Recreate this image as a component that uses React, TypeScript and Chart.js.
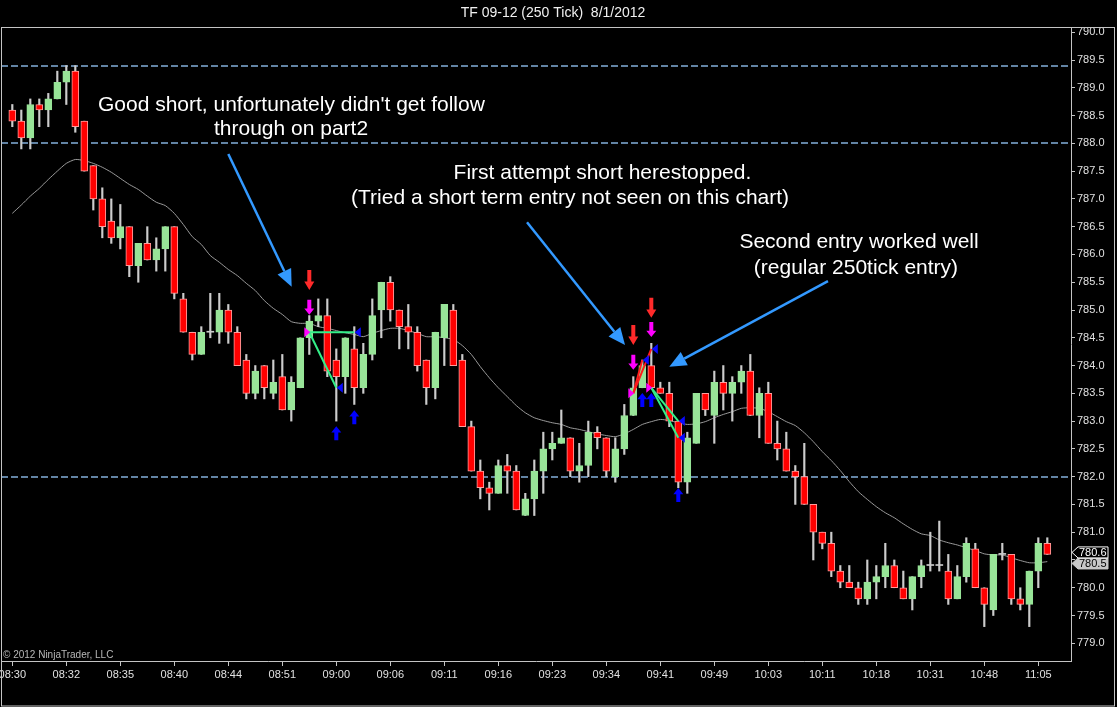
import React, { useEffect, useRef } from 'react';
import { Chart, registerables } from 'chart.js';

Chart.register(...registerables);

// ---------- data ----------
const timeLabels = ['08:30', '08:32', '08:35', '08:40', '08:44', '08:51', '09:00', '09:06', '09:11', '09:16',
  '09:23', '09:34', '09:41', '09:49', '10:03', '10:11', '10:18', '10:31', '10:48', '11:05'];
const barsPerLabel = 6;

const opens = [
  788.6, 788.4, 788.1, 788.7, 788.6, 788.8, 789.1, 789.3, 788.4, 787.6,
  787.0, 786.6, 786.3, 786.5, 785.8, 786.2, 785.9, 786.1, 786.5, 785.2,
  784.6, 784.2, 784.6, 784.6, 785.0, 784.6, 784.1, 783.5, 784.0, 783.5,
  783.8, 783.2, 783.6, 784.5, 784.8, 784.9, 784.1, 783.8, 784.3, 783.6,
  784.2, 785.0, 785.5, 785.0, 784.7, 784.6, 784.1, 783.6, 784.5, 785.0,
  784.1, 782.9, 782.1, 781.8, 781.7, 782.2, 782.1, 781.3, 781.6, 782.1,
  782.5, 782.6, 782.7, 782.1, 782.2, 782.8, 782.7, 782.0, 782.5, 783.1,
  783.6, 784.0, 783.6, 783.5, 783.0, 781.9, 782.6, 783.5, 783.1, 783.7,
  783.5, 783.7, 783.9, 783.1, 783.5, 782.6, 782.5, 782.1, 782.0, 781.5,
  781.0, 780.8, 780.3, 780.1, 780.0, 779.8, 780.1, 780.2, 780.4, 780.0,
  779.8, 780.2, 780.4, 780.4, 780.3, 779.8, 780.2, 780.7, 780.0, 779.6,
  780.6, 780.6, 779.8, 779.7, 780.3, 780.8,
];
const highs = [
  788.7, 788.6, 788.8, 788.8, 788.9, 789.3, 789.4, 789.4, 788.4, 787.6,
  787.2, 787.0, 786.9, 786.5, 786.2, 786.5, 786.3, 786.5, 786.5, 785.3,
  784.6, 784.7, 785.3, 785.3, 785.1, 784.7, 784.2, 784.0, 784.0, 784.1,
  784.2, 783.8, 784.5, 784.9, 785.2, 785.2, 784.3, 784.5, 784.7, 784.4,
  785.2, 785.5, 785.6, 785.0, 785.1, 784.7, 784.1, 784.6, 785.1, 785.1,
  784.2, 783.0, 782.3, 781.9, 782.3, 782.4, 782.2, 781.7, 782.3, 782.8,
  782.8, 783.2, 782.7, 782.6, 783.0, 782.9, 782.7, 782.7, 783.3, 783.8,
  784.1, 784.4, 783.7, 783.7, 783.0, 782.8, 783.5, 783.5, 783.9, 784.0,
  783.8, 784.0, 784.2, 783.6, 783.7, 783.0, 782.8, 782.2, 782.6, 781.5,
  781.0, 781.0, 780.4, 780.4, 780.1, 780.5, 780.4, 780.8, 780.5, 780.3,
  780.2, 780.5, 781.0, 781.2, 780.6, 780.4, 780.9, 780.8, 780.0, 780.6,
  780.8, 780.6, 780.0, 780.3, 780.9, 780.9,
];
const lows = [
  788.3, 787.9, 787.9, 788.3, 788.3, 788.8, 788.7, 788.2, 787.5, 786.8,
  786.3, 786.2, 786.1, 785.6, 785.5, 785.9, 785.7, 785.7, 785.2, 784.6,
  784.1, 784.2, 784.5, 784.4, 784.4, 784.0, 783.4, 783.4, 783.4, 783.4,
  783.2, 783.0, 783.6, 784.2, 784.7, 783.8, 783.0, 783.5, 783.3, 783.5,
  784.1, 784.5, 784.8, 784.3, 784.3, 783.9, 783.3, 783.4, 784.0, 784.0,
  782.9, 782.1, 781.6, 781.4, 781.7, 781.7, 781.4, 781.3, 781.3, 781.7,
  782.3, 782.6, 782.0, 781.9, 782.0, 782.5, 782.0, 781.9, 782.4, 783.1,
  783.6, 783.6, 783.5, 782.9, 781.8, 781.7, 782.6, 783.1, 782.6, 783.2,
  783.0, 783.5, 783.1, 782.7, 782.6, 782.3, 782.1, 781.5, 781.5, 780.5,
  780.7, 780.2, 780.0, 780.0, 779.7, 779.7, 779.8, 780.0, 780.0, 779.8,
  779.6, 780.0, 780.3, 780.3, 779.7, 779.8, 780.1, 780.0, 779.3, 779.5,
  780.5, 779.7, 779.6, 779.3, 780.0, 780.6,
];
const closes = [
  788.4, 788.1, 788.7, 788.6, 788.8, 789.1, 789.3, 788.3, 787.5, 787.0,
  786.5, 786.3, 786.5, 785.8, 786.2, 785.9, 786.1, 786.5, 785.3, 784.6,
  784.2, 784.6, 784.6, 785.0, 784.6, 784.0, 783.5, 783.9, 783.6, 783.7,
  783.2, 783.7, 784.5, 784.8, 784.9, 783.9, 783.8, 784.5, 783.6, 784.2,
  784.9, 785.5, 785.0, 784.7, 784.6, 784.0, 783.6, 784.6, 785.1, 784.0,
  782.9, 782.1, 781.8, 781.7, 782.2, 782.1, 781.4, 781.6, 782.1, 782.5,
  782.6, 782.7, 782.1, 782.2, 782.8, 782.7, 782.1, 782.5, 783.1, 783.6,
  784.0, 783.6, 783.5, 783.0, 781.9, 782.7, 783.5, 783.2, 783.7, 783.5,
  783.7, 783.9, 783.1, 783.5, 782.6, 782.5, 782.1, 782.0, 781.5, 781.0,
  780.8, 780.3, 780.1, 780.0, 779.8, 780.1, 780.2, 780.4, 780.0, 779.8,
  780.2, 780.4, 780.4, 780.4, 779.8, 780.2, 780.8, 780.0, 779.7, 780.6,
  780.6, 779.8, 779.7, 780.3, 780.8, 780.6,
];
const movingAvg = [
  786.74, 786.89, 787.05, 787.19, 787.35, 787.50, 787.64, 787.71, 787.69, 787.64,
  787.57, 787.48, 787.37, 787.26, 787.17, 787.05, 786.94, 786.88, 786.74, 786.54,
  786.32, 786.18, 785.98, 785.86, 785.73, 785.62, 785.48, 785.35, 785.17, 785.03,
  784.92, 784.79, 784.76, 784.76, 784.70, 784.67, 784.63, 784.59, 784.56, 784.52,
  784.58, 784.63, 784.67, 784.67, 784.63, 784.58, 784.52, 784.52, 784.50, 784.47,
  784.36, 784.20, 783.98, 783.78, 783.60, 783.44, 783.28, 783.15, 783.06, 783.01,
  782.97, 782.94, 782.88, 782.85, 782.81, 782.77, 782.74, 782.72, 782.77, 782.85,
  782.94, 782.99, 783.03, 783.01, 782.97, 782.94, 782.95, 782.99, 783.06, 783.12,
  783.17, 783.23, 783.24, 783.23, 783.17, 783.08, 782.99, 782.92, 782.79, 782.63,
  782.45, 782.29, 782.11, 781.91, 781.73, 781.59, 781.46, 781.35, 781.26, 781.15,
  781.05, 780.97, 780.94, 780.86, 780.81, 780.77, 780.72, 780.67, 780.61, 780.59,
  780.59, 780.54, 780.49, 780.45, 780.45, 780.47,
];

const yTickValues = [779.0, 779.5, 780.0, 780.5, 781.0, 781.5, 782.0, 782.5, 783.0, 783.5, 784.0,
  784.5, 785.0, 785.5, 786.0, 786.5, 787.0, 787.5, 788.0, 788.5, 789.0, 789.5, 790.0];
const horizontalLines = [789.4, 788.0, 782.0];
const askPrice = 780.6;
const bidPrice = 780.5;

// signal / trade markers (bar index, price)
const redSignalArrows = [{ i: 33, p: 785.54 }, { i: 69, p: 784.55 }, { i: 71, p: 785.04 }];
const magentaSignalArrows = [{ i: 33, p: 785.05 }, { i: 69, p: 784.06 }, { i: 71, p: 784.65 }];
const blueSignalArrows = [{ i: 36, p: 782.78 }, { i: 38, p: 783.07 }, { i: 70, p: 783.38 }, { i: 71, p: 783.38 }, { i: 74, p: 781.67 }];
const entries = [{ i: 33, p: 784.6 }, { i: 69, p: 783.5 }, { i: 71, p: 783.6 }];
const exits = [{ i: 36, p: 783.6 }, { i: 38, p: 784.6 }, { i: 70, p: 784.1 }, { i: 71, p: 784.3 }, { i: 74, p: 783.0 }, { i: 74, p: 782.7 }];
const tradeLines = [
  { i1: 33, p1: 784.6, i2: 36, p2: 783.6, win: true },
  { i1: 33, p1: 784.6, i2: 38, p2: 784.6, win: true },
  { i1: 69, p1: 783.5, i2: 70, p2: 784.1, win: false },
  { i1: 69, p1: 783.5, i2: 71, p2: 784.3, win: false },
  { i1: 71, p1: 783.6, i2: 74, p2: 783.0, win: true },
  { i1: 71, p1: 783.6, i2: 74, p2: 782.7, win: true },
];

// annotations (bar index, price)
const noteArrows = [
  { i1: 24.0, p1: 787.81, i2: 31.04, p2: 785.42 },
  { i1: 57.19, p1: 786.58, i2: 68.08, p2: 784.37 },
  { i1: 90.63, p1: 785.52, i2: 73.0, p2: 783.98 },
];
const noteTexts = [
  { text: "Good short, unfortunately didn't get follow", i: 31.01, p: 788.69 },
  { text: 'through on part2', i: 30.97, p: 788.25 },
  { text: 'First attempt short herestopped.', i: 65.57, p: 787.47 },
  { text: '(Tried a short term entry not seen on this chart)', i: 61.97, p: 787.01 },
  { text: 'Second entry worked well', i: 94.08, p: 786.22 },
  { text: '(regular 250tick entry)', i: 93.74, p: 785.76 },
];

const titleText = 'TF 09-12 (250 Tick)  8/1/2012';
const copyrightText = '\u00A9 2012 NinjaTrader, LLC';

// ---------- styles ----------
const FONT = '"Liberation Sans", Arial, sans-serif';
const UP = '#98e498';
const DOWN = '#ff0000';
const DOWN_EDGE = '#ff9c9c';
const WICK = '#cccccc';
const FRAME = '#c4c4c4';

function downArrow(ctx: CanvasRenderingContext2D, x: number, yc: number, h: number, w: number, color: string) {
  const top = yc - h / 2, bot = yc + h / 2, headH = h * 0.42, sw = 4;
  ctx.fillStyle = color;
  ctx.beginPath();
  ctx.moveTo(x - sw / 2, top);
  ctx.lineTo(x + sw / 2, top);
  ctx.lineTo(x + sw / 2, bot - headH);
  ctx.lineTo(x + w / 2, bot - headH);
  ctx.lineTo(x, bot);
  ctx.lineTo(x - w / 2, bot - headH);
  ctx.lineTo(x - sw / 2, bot - headH);
  ctx.closePath();
  ctx.fill();
}
function upArrow(ctx: CanvasRenderingContext2D, x: number, yc: number, h: number, w: number, color: string) {
  const top = yc - h / 2, bot = yc + h / 2, headH = h * 0.45, sw = 4;
  ctx.fillStyle = color;
  ctx.beginPath();
  ctx.moveTo(x, top);
  ctx.lineTo(x + w / 2, top + headH);
  ctx.lineTo(x + sw / 2, top + headH);
  ctx.lineTo(x + sw / 2, bot);
  ctx.lineTo(x - sw / 2, bot);
  ctx.lineTo(x - sw / 2, top + headH);
  ctx.lineTo(x - w / 2, top + headH);
  ctx.closePath();
  ctx.fill();
}
function sideTriangle(ctx: CanvasRenderingContext2D, tipX: number, y: number, dir: number, color: string) {
  const len = 6, half = 5;
  ctx.fillStyle = color;
  ctx.beginPath();
  ctx.moveTo(tipX, y);
  ctx.lineTo(tipX - dir * len, y - half);
  ctx.lineTo(tipX - dir * len, y + half);
  ctx.closePath();
  ctx.fill();
}
function noteArrow(ctx: CanvasRenderingContext2D, x1: number, y1: number, x2: number, y2: number) {
  const a = Math.atan2(y2 - y1, x2 - x1);
  const L = 17, W = 7.5;
  const bx = x2 - L * Math.cos(a), by = y2 - L * Math.sin(a);
  ctx.strokeStyle = '#3399ff';
  ctx.fillStyle = '#3399ff';
  ctx.lineWidth = 2.5;
  ctx.beginPath();
  ctx.moveTo(x1, y1);
  ctx.lineTo(bx, by);
  ctx.stroke();
  ctx.beginPath();
  ctx.moveTo(x2, y2);
  ctx.lineTo(bx + W * Math.sin(a), by - W * Math.cos(a));
  ctx.lineTo(bx - W * Math.sin(a), by + W * Math.cos(a));
  ctx.closePath();
  ctx.fill();
}
function priceTag(ctx: CanvasRenderingContext2D, x0: number, y: number, text: string, fill: string, stroke: string, txt: string) {
  const w = 36, h = 11;
  ctx.beginPath();
  ctx.moveTo(x0, y);
  ctx.lineTo(x0 + 6, y - h / 2);
  ctx.lineTo(x0 + w, y - h / 2);
  ctx.lineTo(x0 + w, y + h / 2);
  ctx.lineTo(x0 + 6, y + h / 2);
  ctx.closePath();
  ctx.fillStyle = fill;
  ctx.fill();
  ctx.strokeStyle = stroke;
  ctx.lineWidth = 1;
  ctx.stroke();
  ctx.fillStyle = txt;
  ctx.font = `11px ${FONT}`;
  ctx.textAlign = 'left';
  ctx.textBaseline = 'middle';
  ctx.fillText(text, x0 + 7, y + 0.5);
}

const ninjaPlugin = {
  id: 'ninjaDecor',
  beforeDraw(chart: any) {
    const ctx = chart.ctx;
    ctx.save();
    ctx.fillStyle = '#000';
    ctx.fillRect(0, 0, chart.width, chart.height);
    ctx.restore();
  },
  beforeDatasetsDraw(chart: any) {
    const { ctx, chartArea, scales } = chart;
    ctx.save();
    ctx.strokeStyle = '#6283a4';
    ctx.lineWidth = 2;
    ctx.setLineDash([7, 3]);
    horizontalLines.forEach((v) => {
      const y = Math.round(scales.y.getPixelForValue(v));
      ctx.beginPath();
      ctx.moveTo(chartArea.left, y);
      ctx.lineTo(chartArea.right, y);
      ctx.stroke();
    });
    ctx.restore();
  },
  afterDatasetsDraw(chart: any) {
    const { ctx, chartArea, scales } = chart;
    const X = (i: number) => scales.x.getPixelForValue(i);
    const Y = (p: number) => scales.y.getPixelForValue(p);
    ctx.save();
    ctx.beginPath();
    ctx.rect(chartArea.left, chartArea.top, chartArea.right - chartArea.left, chartArea.bottom - chartArea.top);
    ctx.clip();

    tradeLines.forEach((t) => {
      ctx.strokeStyle = t.win ? '#33ee88' : '#ff1a1a';
      ctx.lineWidth = 2;
      ctx.beginPath();
      ctx.moveTo(X(t.i1), Y(t.p1));
      ctx.lineTo(X(t.i2), Y(t.p2));
      ctx.stroke();
    });
    entries.forEach((e) => sideTriangle(ctx, X(e.i) + 1, Y(e.p), 1, '#ff00ff'));
    exits.forEach((e) => sideTriangle(ctx, X(e.i) + 0.5, Y(e.p), -1, '#0a0aff'));
    redSignalArrows.forEach((a) => downArrow(ctx, X(a.i), Y(a.p), 20, 10, '#ff2a2a'));
    magentaSignalArrows.forEach((a) => downArrow(ctx, X(a.i), Y(a.p), 15, 10, '#ff00ff'));
    blueSignalArrows.forEach((a) => upArrow(ctx, X(a.i), Y(a.p), 14, 10, '#0000ff'));

    noteArrows.forEach((a) => noteArrow(ctx, X(a.i1), Y(a.p1), X(a.i2), Y(a.p2)));

    ctx.fillStyle = '#ffffff';
    ctx.font = `21px ${FONT}`;
    ctx.textAlign = 'center';
    ctx.textBaseline = 'middle';
    noteTexts.forEach((t) => ctx.fillText(t.text, X(t.i), Y(t.p)));
    ctx.restore();
  },
  afterDraw(chart: any) {
    const { ctx, chartArea, scales } = chart;
    ctx.save();
    ctx.strokeStyle = FRAME;
    ctx.lineWidth = 1;
    ctx.strokeRect(1.5, chartArea.top + 0.5, chart.width - 4, chart.height - chartArea.top - 1.5);
    ctx.fillStyle = '#f0f0f0';
    ctx.font = `14px ${FONT}`;
    ctx.textAlign = 'center';
    ctx.textBaseline = 'middle';
    ctx.fillText(titleText, 553, 13);
    ctx.fillStyle = '#b8b8b8';
    ctx.font = `10px ${FONT}`;
    ctx.textAlign = 'left';
    ctx.fillText(copyrightText, 3, chartArea.bottom - 6);
    const x0 = chartArea.right + 1;
    const yAsk = scales.y.getPixelForValue(askPrice) - 2;
    const yBid = scales.y.getPixelForValue(bidPrice) + 3.5;
    priceTag(ctx, x0, yBid, bidPrice.toFixed(1), '#c8c8c8', '#c8c8c8', '#000000');
    priceTag(ctx, x0, yAsk, askPrice.toFixed(1), '#000000', '#ffffff', '#ffffff');
    ctx.restore();
  },
};

export default function App() {
  const ref = useRef<HTMLCanvasElement>(null);
  useEffect(() => {
    document.body.style.margin = '0';
    document.body.style.background = '#000';
    const idx = opens.map((_, i) => i);
    const wickData = idx.map((i) => ({ x: i, y: [lows[i], highs[i]] }));
    const bodyData = idx.map((i) => ({ x: i, y: [opens[i], closes[i]] }));
    const maData = idx.map((i) => ({ x: i, y: movingAvg[i] }));
    const isDoji = (i: number) => opens[i] === closes[i];
    const isUp = (i: number) => closes[i] > opens[i];

    const chart = new Chart(ref.current as HTMLCanvasElement, {
      type: 'bar',
      data: {
        datasets: [
          {
            type: 'bar',
            data: bodyData as any,
            order: 1,
            grouped: false,
            barThickness: 7,
            minBarLength: 1,
            backgroundColor: (c: any) => (isDoji(c.dataIndex) ? WICK : isUp(c.dataIndex) ? UP : DOWN),
            borderColor: (c: any) => (isDoji(c.dataIndex) ? WICK : isUp(c.dataIndex) ? UP : DOWN_EDGE),
            borderWidth: (c: any) => (isDoji(c.dataIndex) ? 0 : 1),
            borderSkipped: false,
          } as any,
          {
            type: 'bar',
            data: wickData as any,
            order: 2,
            grouped: false,
            barThickness: 1.5,
            backgroundColor: WICK,
            borderWidth: 0,
          } as any,
          {
            type: 'line',
            data: maData as any,
            order: 3,
            borderColor: '#9a9a9a',
            borderWidth: 1,
            pointRadius: 0,
            tension: 0.2,
            fill: false,
          } as any,
        ],
      },
      options: {
        responsive: false,
        animation: false,
        events: [],
        layout: { padding: { top: 27, left: 1, right: 0, bottom: 0 } },
        plugins: { legend: { display: false }, tooltip: { enabled: false }, title: { display: false } },
        scales: {
          x: {
            type: 'linear',
            min: -1.256,
            max: 117.633,
            offset: false,
            grid: { display: true, offset: false, drawOnChartArea: false, drawTicks: true, tickLength: 5, color: FRAME },
            border: { display: true, color: FRAME, width: 1 },
            ticks: {
              autoSkip: false,
              maxRotation: 0,
              color: '#e0e0e0',
              font: { family: FONT, size: 11 },
              padding: 2,
              callback: (v: any) => timeLabels[Math.round(Number(v) / barsPerLabel)] ?? '',
            },
            afterBuildTicks: (s: any) => {
              s.ticks = timeLabels.map((_, k) => ({ value: k * barsPerLabel }));
            },
            afterFit: (s: any) => {
              s.height = 46;
              s.paddingLeft = 0;
              s.paddingRight = 0;
            },
          } as any,
          y: {
            type: 'linear',
            position: 'right',
            min: 778.681,
            max: 790.095,
            beginAtZero: false,
            grid: { display: true, drawOnChartArea: false, drawTicks: true, tickLength: 4, color: FRAME },
            border: { display: true, color: FRAME, width: 1 },
            ticks: {
              color: '#e0e0e0',
              font: { family: FONT, size: 11 },
              padding: 2,
              callback: (v: any) => Number(v).toFixed(1),
            },
            afterBuildTicks: (s: any) => {
              s.ticks = yTickValues.map((v) => ({ value: v }));
            },
            afterFit: (s: any) => {
              s.width = 46;
              s.paddingTop = 0;
              s.paddingBottom = 0;
            },
          } as any,
        },
      },
      plugins: [ninjaPlugin as any],
    });
    return () => chart.destroy();
  }, []);

  return (
    <div style={{ width: 1117, height: 707, background: '#000' }}>
      <canvas ref={ref} width={1117} height={707} style={{ display: 'block' }} />
    </div>
  );
}
